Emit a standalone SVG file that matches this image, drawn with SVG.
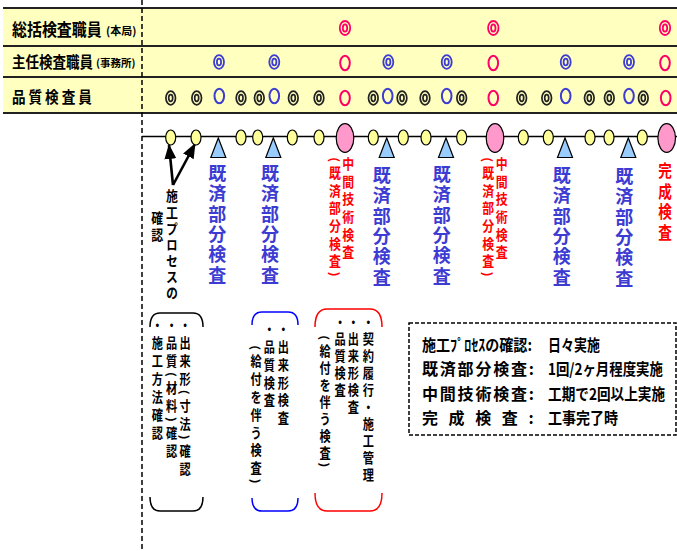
<svg xmlns="http://www.w3.org/2000/svg" width="677" height="551" viewBox="0 0 677 551">
<defs>
<style>
text{font-family:"Noto Sans CJK JP","Noto Sans CJK SC",sans-serif;font-weight:700;fill:#000}
.v{writing-mode:vertical-rl}
.blue{fill:#3C3CD2}
.red{fill:#FF0000}
.yc{fill:#FFFF99;stroke:#000;stroke-width:1.2}
.pk{fill:#FF99CC;stroke:#000;stroke-width:1.2}
.tri{fill:#99CCFF;stroke:#000;stroke-width:1.2}
.rule{stroke:#222;stroke-width:1.8}
.rs{fill:none;stroke:#FF0066;stroke-width:1.8}
.bs{fill:none;stroke:#3C3CD2;stroke-width:1.8}
.ks{fill:none;stroke:#222;stroke-width:1.7}
.br{fill:none;stroke-width:1.5}
.arw{stroke:#000;stroke-width:2.6;fill:none}
.lg{font-size:16px}
</style>
<g id="rd"><ellipse class="rs" rx="5.2" ry="7"/><ellipse class="rs" rx="2.2" ry="3.6"/></g>
<g id="bd"><ellipse class="bs" rx="5" ry="6.8"/><ellipse class="bs" rx="2.1" ry="3.4"/></g>
<g id="kd"><ellipse class="ks" rx="4.8" ry="6.8"/><ellipse class="ks" rx="2" ry="3.3"/></g>
<g id="ro"><ellipse class="rs" rx="4.8" ry="7.2" style="stroke-width:2"/></g>
<g id="bo"><ellipse class="bs" rx="4.8" ry="7.2" style="stroke-width:2"/></g>
<marker id="ah" markerUnits="userSpaceOnUse" markerWidth="15" markerHeight="12" refX="14" refY="6" orient="auto">
<path d="M0,0 L15,6 L0,12 z" fill="#000"/>
</marker>
</defs>

<rect width="677" height="551" fill="#FFFFFF"/>

<g id="table">
<rect x="3" y="8" width="674" height="105" fill="#FFFFC0"/>
<line class="rule" x1="3" y1="8" x2="677" y2="8"/>
<line class="rule" x1="3" y1="46" x2="677" y2="46"/>
<line class="rule" x1="3" y1="77" x2="677" y2="77"/>
<line class="rule" x1="3" y1="113" x2="677" y2="113"/>
</g>

<g id="row-label-1">
<g transform="translate(12,36) scale(0.88,1)"><text x="0" y="0" font-size="17" textLength="102" lengthAdjust="spacingAndGlyphs">総括検査職員</text></g>
<text x="106" y="35" font-size="11">(本局)</text>
</g>
<g id="row-label-2">
<g transform="translate(12,68) scale(0.845,1)"><text x="0" y="0" font-size="16" textLength="96" lengthAdjust="spacingAndGlyphs">主任検査職員</text></g>
<text x="96" y="67" font-size="10.5">(事務所)</text>
</g>
<g id="row-label-3">
<g transform="translate(12,103) scale(0.85,1)"><text x="0" y="0" font-size="16" letter-spacing="3.5">品質検査員</text></g>
</g>

<g id="row-marks-1">
<use href="#rd" x="345" y="28"/><use href="#rd" x="493.3" y="28"/><use href="#rd" x="665" y="28"/>
</g>
<g id="row-marks-2">
<use href="#bd" x="219" y="62"/><use href="#bd" x="274.3" y="62"/><use href="#bd" x="388.3" y="62"/><use href="#bd" x="446.7" y="62"/><use href="#bd" x="565.7" y="62"/><use href="#bd" x="629" y="62"/>
<use href="#ro" x="345" y="63"/><use href="#ro" x="493.3" y="63"/><use href="#ro" x="665" y="63"/>
</g>
<g id="row-marks-3">
<use href="#kd" x="170.7" y="98"/><use href="#kd" x="196.7" y="98"/><use href="#kd" x="241" y="98"/><use href="#kd" x="259.3" y="98"/><use href="#kd" x="293.3" y="98"/><use href="#kd" x="319" y="98"/><use href="#kd" x="373.3" y="98"/><use href="#kd" x="402" y="98"/><use href="#kd" x="425" y="98"/><use href="#kd" x="461.7" y="98"/><use href="#kd" x="521.7" y="98"/><use href="#kd" x="546.7" y="98"/><use href="#kd" x="589.3" y="98"/><use href="#kd" x="609.3" y="98"/><use href="#kd" x="643.3" y="98"/>
<use href="#bo" x="219.3" y="96"/><use href="#bo" x="274.3" y="96"/><use href="#bo" x="387.7" y="96"/><use href="#bo" x="446.7" y="96"/><use href="#bo" x="565.7" y="96"/><use href="#bo" x="629" y="96"/>
<use href="#ro" x="345" y="98"/><use href="#ro" x="493.3" y="98"/><use href="#ro" x="665.7" y="98"/>
</g>

<g id="connectors">
<line x1="142" y1="0" x2="142" y2="551" stroke="#000" stroke-width="1.5" stroke-dasharray="5,3"/>
<line x1="142" y1="136.5" x2="677" y2="136.5" stroke="#000" stroke-width="1.6"/>
<line class="arw" x1="173" y1="185" x2="169" y2="145" marker-end="url(#ah)"/>
<line class="arw" x1="173" y1="185" x2="195" y2="144" marker-end="url(#ah)"/>
</g>

<g id="timeline-events">
<ellipse class="yc" cx="170.7" cy="137.5" rx="5" ry="7.5"/>
<ellipse class="yc" cx="196" cy="137.5" rx="5" ry="7.5"/>
<ellipse class="yc" cx="241" cy="137.5" rx="5" ry="7.5"/>
<ellipse class="yc" cx="257.7" cy="137.5" rx="5" ry="7.5"/>
<ellipse class="yc" cx="292.3" cy="137.5" rx="5" ry="7.5"/>
<ellipse class="yc" cx="319" cy="137.5" rx="5" ry="7.5"/>
<ellipse class="yc" cx="373.3" cy="137.5" rx="5" ry="7.5"/>
<ellipse class="yc" cx="403.3" cy="137.5" rx="5" ry="7.5"/>
<ellipse class="yc" cx="426" cy="137.5" rx="5" ry="7.5"/>
<ellipse class="yc" cx="461.7" cy="137.5" rx="5" ry="7.5"/>
<ellipse class="yc" cx="523.3" cy="137.5" rx="5" ry="7.5"/>
<ellipse class="yc" cx="548.3" cy="137.5" rx="5" ry="7.5"/>
<ellipse class="yc" cx="590" cy="137.5" rx="5" ry="7.5"/>
<ellipse class="yc" cx="609" cy="137.5" rx="5" ry="7.5"/>
<ellipse class="yc" cx="642.3" cy="137.5" rx="5" ry="7.5"/>
<ellipse class="pk" cx="345" cy="138" rx="8.8" ry="14.3"/>
<ellipse class="pk" cx="495" cy="138" rx="8.8" ry="14.3"/>
<ellipse class="pk" cx="666.7" cy="138" rx="8.8" ry="14.3"/>
<polygon class="tri" points="218.3,138 210.8,157.5 225.8,157.5"/>
<polygon class="tri" points="273.3,138 265.8,157.5 280.8,157.5"/>
<polygon class="tri" points="386.7,138 379.2,157.5 394.2,157.5"/>
<polygon class="tri" points="446,138 438.5,157.5 453.5,157.5"/>
<polygon class="tri" points="565,138 557.5,157.5 572.5,157.5"/>
<polygon class="tri" points="628.3,138 620.8,157.5 635.8,157.5"/>
</g>

<g id="process-label">
<g transform="translate(172,0) scale(0.85,1)"><text class="v" x="0" y="189" font-size="14" letter-spacing="2.2">施工プロセスの</text></g>
<g transform="translate(157.3,0) scale(0.85,1)"><text class="v" x="0" y="211" font-size="14" letter-spacing="3">確認</text></g>
</g>

<g id="partial-labels">
<text class="v blue" x="217.3" y="164" font-size="18" letter-spacing="2.4">既済部分検査</text>
<text class="v blue" x="270" y="164" font-size="18" letter-spacing="2.4">既済部分検査</text>
<text class="v blue" x="381.7" y="166" font-size="18" letter-spacing="2.4">既済部分検査</text>
<text class="v blue" x="441.7" y="165" font-size="18" letter-spacing="2.4">既済部分検査</text>
<text class="v blue" x="561.7" y="166" font-size="18" letter-spacing="2.4">既済部分検査</text>
<text class="v blue" x="624.3" y="167" font-size="18" letter-spacing="2.4">既済部分検査</text>
</g>

<g id="mid-labels">
<g transform="translate(348.3,0) scale(0.85,1)"><text class="v red" x="0" y="157" font-size="14" letter-spacing="3.6">中間技術検査</text></g>
<g transform="translate(335,0) scale(0.85,1)"><text class="v red" x="0" y="157" font-size="14" letter-spacing="3.6">(既済部分検査)</text></g>
<g transform="translate(501.7,0) scale(0.85,1)"><text class="v red" x="0" y="157" font-size="14" letter-spacing="3.6">中間技術検査</text></g>
<g transform="translate(488.3,0) scale(0.85,1)"><text class="v red" x="0" y="157" font-size="14" letter-spacing="3.6">(既済部分検査)</text></g>
</g>

<g id="final-label">
<g transform="translate(665,0) scale(0.8,1)"><text class="v red" x="0" y="162" font-size="17" letter-spacing="3.6">完成検査</text></g>
</g>

<g id="bracket-process">
<path class="br" stroke="#000" d="M150,327 Q150,313 160,313 L193,313 Q203,313 203,327 M150,497 Q150,511 160,511 L193,511 Q203,511 203,497"/>
<g transform="translate(185,0) scale(0.8,1)"><text class="v" x="0" y="318" font-size="14" letter-spacing="3.9">・出来形(寸法)確認</text></g>
<g transform="translate(171.7,0) scale(0.8,1)"><text class="v" x="0" y="318" font-size="14" letter-spacing="3.9">・品質(材料)確認</text></g>
<g transform="translate(157.3,0) scale(0.8,1)"><text class="v" x="0" y="318" font-size="14" letter-spacing="3.9">・施工方法確認</text></g>
</g>

<g id="bracket-partial">
<path class="br" stroke="#0000FF" d="M252,325 Q252,312 262,312 L288,312 Q298,312 298,325 M252,498 Q252,511 262,511 L288,511 Q298,511 298,498"/>
<g transform="translate(283.3,0) scale(0.8,1)"><text class="v" x="0" y="322" font-size="14" letter-spacing="3.8">・出来形検査</text></g>
<g transform="translate(269.3,0) scale(0.8,1)"><text class="v" x="0" y="322" font-size="14" letter-spacing="3.8">・品質検査</text></g>
<g transform="translate(256,0) scale(0.8,1)"><text class="v" x="0" y="345" font-size="14" letter-spacing="3.8">(給付を伴う検査)</text></g>
</g>

<g id="bracket-mid">
<path class="br" stroke="#FF0000" d="M315,327 Q315,309 327,309 L370,309 Q382,309 382,327 M315,493 Q315,511 327,511 L370,511 Q382,511 382,493"/>
<g transform="translate(368.3,0) scale(0.8,1)"><text class="v" x="0" y="315" font-size="14" letter-spacing="3">・契約履行・施工管理</text></g>
<g transform="translate(353.3,0) scale(0.8,1)"><text class="v" x="0" y="315" font-size="14" letter-spacing="3">・出来形検査</text></g>
<g transform="translate(340,0) scale(0.8,1)"><text class="v" x="0" y="315" font-size="14" letter-spacing="3">・品質検査</text></g>
<g transform="translate(325,0) scale(0.8,1)"><text class="v" x="0" y="335" font-size="14" letter-spacing="3">(給付を伴う検査)</text></g>
</g>

<g id="legend">
<rect x="409" y="323" width="267" height="112" fill="none" stroke="#000" stroke-width="1.5" stroke-dasharray="4,2"/>
<g transform="translate(422,351) scale(0.88,1)"><text class="lg" x="0" y="0" textLength="125" lengthAdjust="spacingAndGlyphs">施工ﾌﾟﾛｾｽの確認:</text></g>
<g transform="translate(548,351) scale(0.81,1)"><text class="lg" x="0" y="0" textLength="64" lengthAdjust="spacingAndGlyphs">日々実施</text></g>
<text class="lg" x="422" y="375" letter-spacing="1.8">既済部分検査:</text>
<g transform="translate(548,375) scale(0.845,1)"><text class="lg" x="0" y="0" textLength="136" lengthAdjust="spacingAndGlyphs">1回/2ヶ月程度実施</text></g>
<text class="lg" x="422" y="400" letter-spacing="1.8">中間技術検査:</text>
<g transform="translate(548,400) scale(0.855,1)"><text class="lg" x="0" y="0" textLength="137" lengthAdjust="spacingAndGlyphs">工期で2回以上実施</text></g>
<text class="lg" x="422" y="424" letter-spacing="10.6">完成検査:</text>
<g transform="translate(548,424) scale(0.875,1)"><text class="lg" x="0" y="0" textLength="80" lengthAdjust="spacingAndGlyphs">工事完了時</text></g>
</g>
</svg>
